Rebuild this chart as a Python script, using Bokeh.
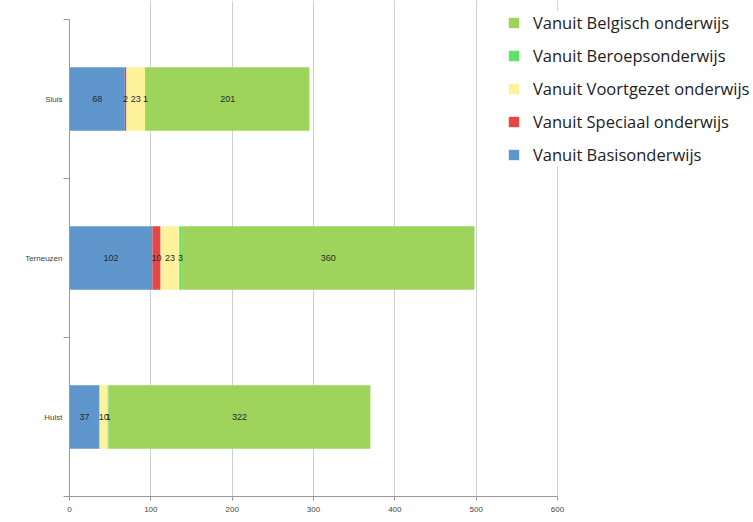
from bokeh.plotting import figure
from bokeh.models import ColumnDataSource, Legend, LegendItem, FixedTicker, Range1d
from bokeh.embed import file_html
from bokeh.resources import INLINE
from bokeh.core.properties import value

regions = ["Hulst", "Terneuzen", "Sluis"]
basis = [37, 102, 68]
speciaal = [0, 10, 2]
voortgezet = [10, 23, 23]
beroeps = [1, 3, 1]
belgisch = [322, 360, 201]
x_ticks = [0, 100, 200, 300, 400, 500, 600]

series = ["basis", "speciaal", "voortgezet", "beroeps", "belgisch"]
names = {"basis": "Vanuit Basisonderwijs", "speciaal": "Vanuit Speciaal onderwijs",
         "voortgezet": "Vanuit Voortgezet onderwijs", "beroeps": "Vanuit Beroepsonderwijs",
         "belgisch": "Vanuit Belgisch onderwijs"}
colors = {"basis": "#5F96CB", "speciaal": "#E64646", "voortgezet": "#FFF29C",
          "beroeps": "#5DE06C", "belgisch": "#9FD45C"}
vals = {"basis": basis, "speciaal": speciaal, "voortgezet": voortgezet,
        "beroeps": beroeps, "belgisch": belgisch}

n = len(regions)
ypos = [i + 0.5 for i in range(n)]
src = ColumnDataSource(dict(y=ypos, **vals))

p = figure(width=753, height=514, y_range=Range1d(0, n * 1.04), x_range=Range1d(0, 841),
           output_backend="svg", toolbar_location=None,
           min_border_left=69, min_border_right=0, min_border_top=0, min_border_bottom=2)
p.outline_line_color = None

renderers = p.hbar_stack(series, y="y", height=0.4, source=src,
                         color=[colors[s] for s in series], line_color=None)

# value labels at segment centres
lx, ly, lt = [], [], []
for i in range(n):
    left = 0
    for s in series:
        v = vals[s][i]
        if v > 0:
            lx.append(left + v / 2)
            ly.append(ypos[i])
            lt.append(str(v))
        left += v
lsrc = ColumnDataSource(dict(x=lx, y=ly, t=lt))
p.text(x="x", y="y", text="t", source=lsrc, text_align="center", text_baseline="middle",
       text_font_size="9px", text_color="#2a2a2a", text_font=value("Liberation Sans"))

rmap = dict(zip(series, renderers))
items = [LegendItem(label=names[s], renderers=[rmap[s]])
         for s in ["belgisch", "beroeps", "voortgezet", "speciaal", "basis"]]
legend = Legend(items=items, location=(438, 330), label_text_font="Open Sans",
                label_text_font_size="16.5px", label_text_color="#222222",
                glyph_width=13, glyph_height=13, spacing=10, padding=4, margin=0,
                border_line_color=None, background_fill_alpha=1.0, label_standoff=13)
p.add_layout(legend, "center")

p.xaxis.ticker = FixedTicker(ticks=x_ticks)
p.xaxis.bounds = (0, 600)
p.xgrid.ticker = FixedTicker(ticks=x_ticks)
p.xgrid.bounds = (0, n)
p.xgrid.grid_line_color = "#d0d0d0"
p.ygrid.grid_line_color = None

p.yaxis.ticker = FixedTicker(ticks=ypos, minor_ticks=list(range(n + 1)))
p.yaxis.major_label_overrides = {y: r for y, r in zip(ypos, regions)}
p.yaxis.bounds = (0, n)

for ax in (p.xaxis[0], p.yaxis[0]):
    ax.axis_line_color = "#9a9a9a"
    ax.major_tick_line_color = "#9a9a9a"
    ax.major_label_text_font = "Liberation Sans"
    ax.major_label_text_font_size = "8px"
    ax.major_label_text_color = "#444444"
    ax.major_tick_in = 0
    ax.major_tick_out = 4
p.xaxis.minor_tick_line_color = None
p.yaxis.major_tick_line_color = None
p.yaxis.major_tick_out = 0
p.yaxis.minor_tick_line_color = "#9a9a9a"
p.yaxis.minor_tick_in = 0
p.yaxis.minor_tick_out = 6
p.yaxis.major_label_standoff = 1
p.xaxis.major_label_standoff = 6

open("out.html", "w").write(file_html(p, INLINE))
